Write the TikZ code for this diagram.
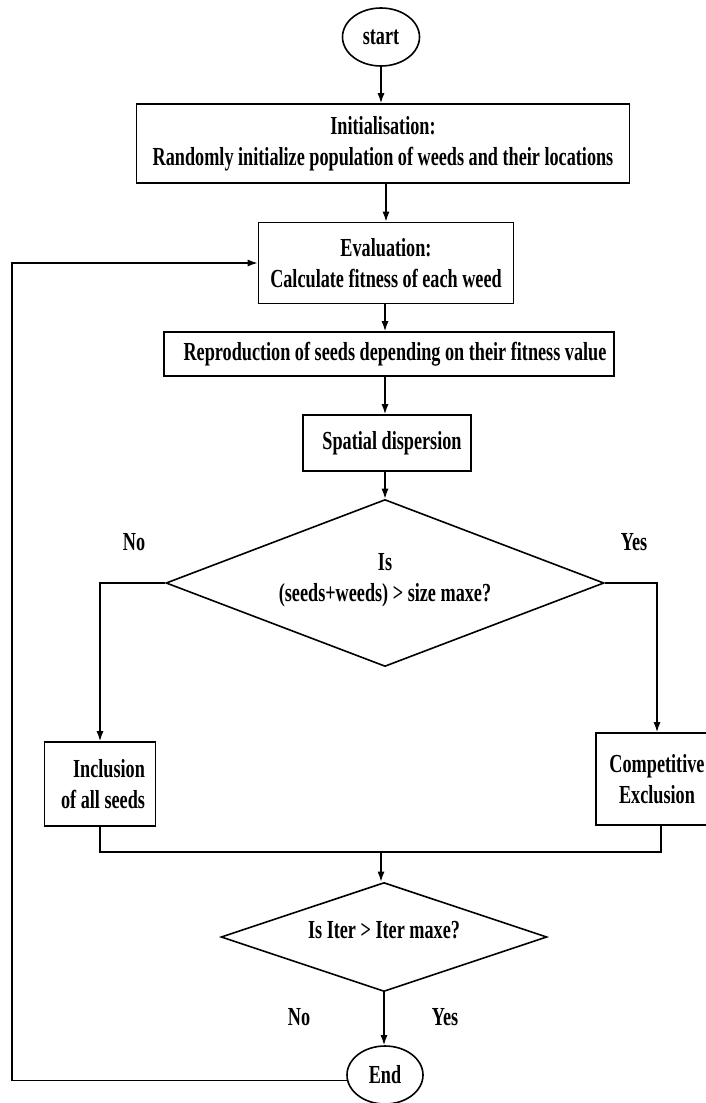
\documentclass[tikz,border=0pt]{standalone}
\usepackage{fontspec}
\setmainfont{Liberation Serif}[FakeStretch=0.70]
\usetikzlibrary{shapes.geometric,arrows.meta}
\begin{document}
\begin{tikzpicture}[x=1pt,y=-1pt,
  every node/.style={font=\fontsize{26}{31}\selectfont\bfseries, inner sep=0pt},
  box/.style={draw, line width=1.6pt, align=center},
  term/.style={draw, ellipse, line width=1.6pt},
  decision/.style={draw, diamond, shape aspect=2.6, line width=1.6pt, align=center},
  arr/.style={line width=1.4pt, -{Latex[length=10pt,width=7pt]}},
  link/.style={line width=1.4pt}]
\useasboundingbox (0,0) rectangle (705,1103);
\fill[white] (0,0) rectangle (705,1103);

% main column
\node[term, minimum width=77, minimum height=58] (start) at (381,37) {start};
\node[box, minimum width=493, minimum height=79] (init) at (383,143.5)
  {Initialisation:\\Randomly initialize population of weeds and their locations};
\node[box, minimum width=255, minimum height=81] (eval) at (386,263)
  {Evaluation:\\Calculate fitness of each weed};
\node[box, minimum width=450, minimum height=44] (repro) at (389,354)
  {\hspace{12pt}Reproduction of seeds depending on their fitness value};
\node[box, minimum width=168, minimum height=56] (spat) at (387,443)
  {\hspace{10pt}Spatial dispersion};
\node[decision, minimum width=438, minimum height=167] (dec1) at (385,583)
  {Is\\(seeds+weeds) > size maxe?\\[-19pt]};

% branches
\node[box, minimum width=111, minimum height=84, align=right] (incl) at (100,784)
  {\hspace{6pt}Inclusion\\\hspace{6pt}of all seeds};
\node[box, minimum width=122, minimum height=92] (comp) at (657,779)
  {Competitive\\Exclusion};

\node[decision, minimum width=326, minimum height=109] (dec2) at (384,937)
  {Is Iter > Iter maxe?\\[-17pt]};
\node[term, minimum width=76, minimum height=58] (endn) at (385,1075) {End};

% branch labels
\node (no1) at (134,542) {No};
\node (yes1) at (634,542) {Yes};
\node (no2) at (299,1017) {No};
\node (yes2) at (445,1017) {Yes};

% connectors
\draw[arr] (start.south) -- (start.south |- init.north);
\draw[arr] (init.south -| eval.north) -- (eval.north);
\draw[arr] (eval.south -| dec1.north) -- (dec1.north |- repro.north);
\draw[arr] (repro.south -| dec1.north) -- (dec1.north |- spat.north);
\draw[arr] (spat.south -| dec1.north) -- (dec1.north);
\draw[arr] (dec1.west) -| (incl.north);
\draw[arr] (dec1.east) -| (comp.north);
\coordinate (merge) at (381,852);
\draw[link] (incl.south) |- (merge) -| ([xshift=4pt]comp.south);
\draw[arr] (merge) -- (merge |- dec2.north);
\draw[arr] (dec2.south) -- (dec2.south |- endn.north);
\coordinate (loopx) at (12,0);
\draw[arr] (endn.188) -| (loopx |- eval.west) -- (eval.west);
\end{tikzpicture}
\end{document}
